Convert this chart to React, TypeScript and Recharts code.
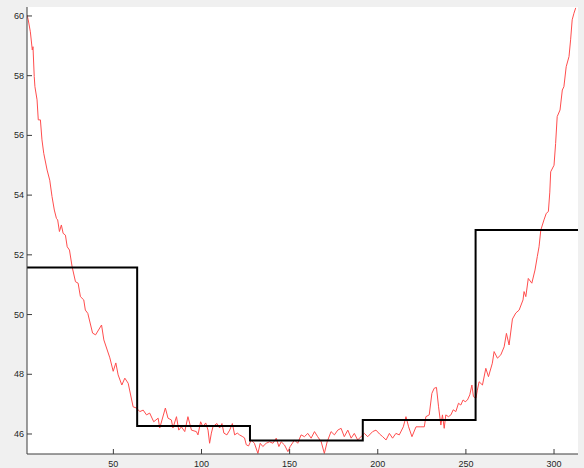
import React from 'react';
import { LineChart, Line, XAxis, YAxis } from 'recharts';

// mean levels per block (black step line)
const stepX = [1, 63.5, 127.5, 191.5, 255.5, 313.6];
const stepY = [51.58, 46.27, 45.78, 46.47, 52.83, 52.83];

const sigX = [
  1, 1.7, 2.9, 4, 4.4, 5.1, 5.5, 6.7, 7.4, 8.6, 9.5, 10.5, 12.4, 13.9, 15.2, 16.5, 17.7, 18.4, 19.4,
  20.5, 21.5, 22.8, 23.8, 25.1, 26.6, 28.5, 30, 31.3, 33.2, 34.1, 35.5, 38.2, 39.9, 43.3, 44.6, 48,
  49.9, 51.4, 52.7, 54.8, 56.5, 58.4, 61.2, 63.1, 65, 66.9, 68.8, 70.6, 72.9, 75.4, 76.3, 79.5, 81,
  82.9, 83.8, 85.8, 87.1, 88.6, 90.5, 92.3, 94.3, 97.1, 98, 99.5, 100.8, 102.4, 103.7, 104.6, 105.6,
  106.5, 107.5, 108.8, 110.3, 111.6, 112.7, 114.4, 116, 117.5, 118.8, 120.3, 121.6, 123.1, 124.4,
  125.4, 126.7, 128.2, 130, 132, 133.3, 134.8, 136.7, 138.6, 140.5, 142.4, 143.9, 145.2, 147.1, 149,
  150.3, 152.8, 154.6, 156.5, 158.4, 160.3, 162.2, 164.1, 165.9, 167.9, 169.7, 171.3, 173.5, 175.4,
  177.3, 179.2, 181, 183, 184.9, 186.7, 188.6, 190.5, 192.4, 194.3, 197.1, 199, 201, 202.8, 204.7,
  206.6, 208.4, 210.3, 212.2, 214.5, 216, 217.5, 219.4, 221.7, 224.5, 226.4, 227.3, 229.2, 230.7,
  232, 233.3, 234.5, 235.8, 236.7, 237.7, 238.6, 240.1, 241.5, 242.8, 244.3, 245.8, 247.1, 248.4,
  249.6, 250.9, 252.2, 253.4, 254.3, 255.7, 256.5, 257.5, 259.4, 261.3, 262.8, 265, 266, 267.9,
  269.8, 271.7, 273, 274.5, 276.4, 278.3, 280.2, 282.4, 283, 284, 285.4, 287.4, 289.2, 290.5, 291.5,
  292.5, 294.3, 295.6, 296.8, 297.6, 298.1, 300, 300.9, 301.8, 303.4, 304.7, 305.6, 306.9, 308.5,
  309.4, 310.3, 311.3, 312.3,
];
const sigY = [
  60.03, 59.87, 59.47, 58.86, 58.97, 57.97, 57.63, 57.19, 56.52, 56.52, 55.85, 55.4, 54.84, 54.5,
  53.95, 53.5, 53.22, 53.17, 52.78, 53.0, 52.72, 52.66, 52.27, 52.16, 51.6, 51.1, 51.05, 50.6, 50.49,
  50.15, 50.04, 49.38, 49.32, 49.65, 49.15, 48.55, 48.1, 48.38, 47.98, 47.64, 47.87, 47.7, 46.91,
  46.87, 46.75, 46.8, 46.64, 46.7, 46.41, 46.53, 46.2, 46.87, 46.53, 46.47, 46.2, 46.58, 46.13, 46.24,
  46.08, 46.58, 46.13, 46.08, 45.97, 46.41, 46.24, 46.37, 46.13, 45.69, 46.03, 46.24, 46.3, 46.35,
  46.2, 46.35, 46.03, 45.97, 46.13, 46.35, 45.97, 46.03, 45.97, 45.92, 45.87, 45.64, 45.6, 45.8,
  45.69, 45.35, 45.69, 45.58, 45.69, 45.74, 45.69, 45.86, 45.58, 45.74, 45.63, 45.41, 45.58, 45.8,
  45.69, 45.97, 45.91, 46.02, 45.86, 46.08, 45.91, 45.74, 45.35, 45.74, 46.08, 45.97, 46.13, 46.19,
  45.91, 46.13, 45.86, 46.02, 45.8, 45.91, 46.02, 45.91, 46.08, 46.13, 46.0, 45.91, 45.8, 46.02,
  45.86, 46.02, 45.97, 46.24, 46.58, 46.24, 45.91, 46.24, 46.24, 46.24, 46.58, 46.64, 47.36, 47.53,
  47.56, 46.91, 46.3, 46.64, 46.19, 46.64, 46.58, 46.64, 46.81, 46.75, 47.03, 46.97, 47.14, 47.08,
  47.14, 47.31, 47.64, 47.25, 47.2, 47.47, 47.75, 47.64, 48.2, 47.92, 48.37, 48.76, 48.54, 48.65,
  48.92, 49.37, 48.98, 49.85, 50.05, 50.15, 50.49, 50.77, 50.6, 51.21, 51.05, 51.49, 51.94, 52.27,
  52.83, 53.17, 53.39, 53.45, 54.1, 54.78, 55.0, 55.73, 56.63, 56.85, 57.52, 57.63, 58.3, 58.64,
  59.2, 59.87, 60.09, 60.27,
];

const xTicks = [50, 100, 150, 200, 250, 300];
const yTicks = [46, 48, 50, 52, 54, 56, 58, 60];

const stepData = stepX.map((x, i) => ({ x, v: stepY[i] }));
const sigData = sigX.map((x, i) => ({ x, v: sigY[i] }));

const frame = '#3c3c3c';
const labelStyle = { fontFamily: '"Liberation Sans", Arial, sans-serif', fontSize: 9, fill: '#262626' };

const BottomTick = (props: any) => {
  const { x, y, payload } = props;
  return (
    <g>
      <line x1={x} x2={x} y1={y - 4} y2={y - 9} stroke={frame} />
      <text x={x} y={y + 9} textAnchor="middle" {...labelStyle}>{payload.value}</text>
    </g>
  );
};

const LeftTick = (props: any) => {
  const { x, y, payload } = props;
  return (
    <g>
      <line x1={x + 3} x2={x + 8} y1={y} y2={y} stroke={frame} />
      <text x={x} y={y + 3} textAnchor="end" {...labelStyle}>{payload.value}</text>
    </g>
  );
};

const TopTick = (props: any) => {
  const { x, y } = props;
  return <line x1={x} x2={x} y1={y} y2={y + 5} stroke={frame} />;
};

const RightTick = (props: any) => {
  const { x, y } = props;
  return <line x1={x - 5} x2={x} y1={y} y2={y} stroke={frame} />;
};

export default function App() {
  const xDomain = [1, 313.6];
  const yDomain = [45.33, 60.3];
  return (
    <div style={{ position: 'absolute', left: 0, top: 0, width: 584, height: 468, background: '#f0f0f0' }}>
      <div style={{ position: 'absolute', left: 27, top: 7, width: 551, height: 447, background: '#fff' }} />
      <div style={{ position: 'absolute', left: 0, top: 0 }}>
        <LineChart width={584} height={468} margin={{ top: 7, right: 6, bottom: 0, left: 0 }}>
          <XAxis
            dataKey="x"
            type="number"
            domain={xDomain}
            allowDataOverflow
            ticks={xTicks}
            height={14}
            tickSize={0}
            tickMargin={4}
            tick={<BottomTick />}
            stroke={frame}
          />
          <XAxis
            xAxisId="top"
            orientation="top"
            type="number"
            domain={xDomain}
            allowDataOverflow
            ticks={xTicks}
            height={0}
            tickSize={0}
            tickMargin={0}
            tick={<TopTick />}
            stroke={frame}
          />
          <YAxis
            type="number"
            domain={yDomain}
            allowDataOverflow
            ticks={yTicks}
            width={27}
            tickSize={0}
            tickMargin={3}
            tick={<LeftTick />}
            stroke={frame}
          />
          <YAxis
            yAxisId="right"
            orientation="right"
            type="number"
            domain={yDomain}
            allowDataOverflow
            ticks={yTicks}
            width={0}
            tickSize={0}
            tickMargin={0}
            tick={<RightTick />}
            stroke={frame}
          />
          <Line
            data={sigData}
            dataKey="v"
            type="linear"
            stroke="#ff4d4d"
            strokeWidth={1}
            dot={false}
            isAnimationActive={false}
          />
          <Line
            data={stepData}
            dataKey="v"
            type="stepAfter"
            stroke="#000"
            strokeWidth={2}
            dot={false}
            isAnimationActive={false}
          />
        </LineChart>
      </div>
    </div>
  );
}
